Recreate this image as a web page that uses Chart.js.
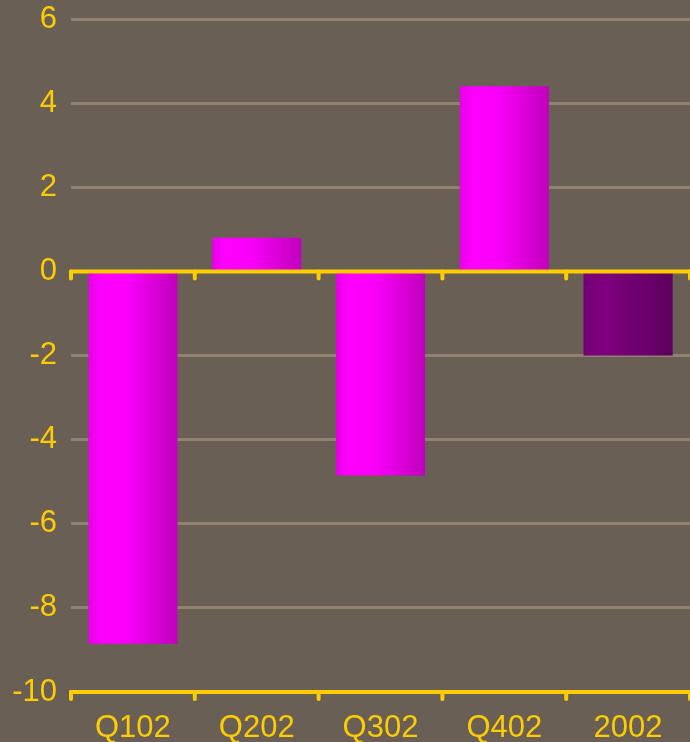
<!DOCTYPE html>
<html>
<head>
<meta charset="utf-8">
<script src="https://cdn.jsdelivr.net/npm/chart.js@4.4.1/dist/chart.umd.min.js"></script>
<style>
  html, body { margin: 0; padding: 0; background: #695f55; }
  #chart { display: block; }
</style>
</head>
<body>
<canvas id="chart" width="690" height="742"></canvas>
<script>
// data
const categories = ["Q102", "Q202", "Q302", "Q402", "2002"];
const values = [-8.85, 0.8, -4.85, 4.4, -2.0];
const yTicks = [6, 4, 2, 0, -2, -4, -6, -8, -10];

const yellow = "#ffcc00";
const gridGray = "#908170";
const barPct = 0.72;
const labelFont = { family: "'Liberation Sans', Arial, sans-serif", size: 31 };

function barFill(ctx) {
    const chart = ctx.chart;
    const xs = chart.scales.x;
    if (!chart.chartArea || !xs) return "#ff00ff";
    const cx = xs.getPixelForValue(ctx.dataIndex);
    const w = xs.width / categories.length * barPct;
    const g = chart.ctx.createLinearGradient(cx - w / 2, 0, cx + w / 2, 0);
    if (ctx.dataIndex == categories.length - 1) {
        g.addColorStop(0, "#720072");
        g.addColorStop(0.2, "#800080");
        g.addColorStop(1, "#5e005e");
    } else {
        g.addColorStop(0, "#e400e4");
        g.addColorStop(0.15, "#ff00ff");
        g.addColorStop(0.45, "#f800f8");
        g.addColorStop(1, "#c000bc");
    }
    return g;
}

// yellow axis lines at 0 and at the bottom, with ticks between categories
const axisLines = {
    id: "axisLines",
    afterDatasetsDraw(chart) {
        const c = chart.ctx;
        const xs = chart.scales.x;
        const ys = chart.scales.y;
        const left = chart.chartArea.left;
        const right = chart.chartArea.right;
        const step = xs.width / categories.length;
        c.save();
        c.strokeStyle = yellow;
        c.lineWidth = 4;
        c.lineCap = "round";
        [0, ys.min].forEach(v => {
            const y = ys.getPixelForValue(v);
            c.beginPath();
            c.moveTo(left, y);
            c.lineTo(right, y);
            c.stroke();
            for (let i = 0; i <= categories.length; i++) {
                const x = left + step * i;
                c.beginPath();
                c.moveTo(x, y);
                c.lineTo(x, y + 7);
                c.stroke();
            }
        });
        c.restore();
    }
};

new Chart(document.getElementById("chart"), {
    type: "bar",
    data: {
        labels: categories,
        datasets: [{
            data: values,
            backgroundColor: barFill,
            borderWidth: 0,
            barPercentage: barPct,
            categoryPercentage: 1
        }]
    },
    options: {
        responsive: false,
        animation: false,
        layout: { padding: { top: 19, left: 0, right: 0, bottom: 0 } },
        plugins: { legend: { display: false }, tooltip: { enabled: false } },
        scales: {
            x: {
                grid: { display: false, drawTicks: false },
                border: { display: false },
                ticks: { color: yellow, font: labelFont, padding: 18 },
                afterFit: s => { s.height = 50; s.paddingLeft = 0; s.paddingRight = 0; }
            },
            y: {
                min: yTicks[yTicks.length - 1],
                max: yTicks[0],
                afterBuildTicks: s => { s.ticks = yTicks.map(v => ({ value: v })); },
                grid: {
                    drawTicks: false,
                    lineWidth: 3,
                    color: c => (c.tick && (c.tick.value == 0 || c.tick.value == -10)) ? "rgba(0,0,0,0)" : gridGray
                },
                border: { display: false },
                ticks: { color: yellow, font: labelFont, padding: 14 },
                afterFit: s => { s.width = 71; s.paddingTop = 0; s.paddingBottom = 0; }
            }
        }
    },
    plugins: [axisLines]
});
</script>
</body>
</html>
